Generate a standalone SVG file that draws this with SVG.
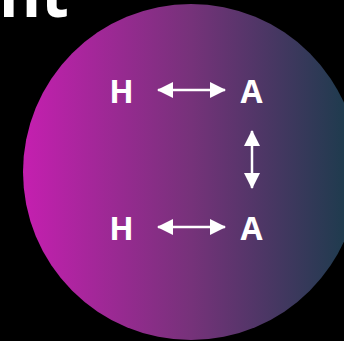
<svg xmlns="http://www.w3.org/2000/svg" width="344" height="341" viewBox="0 0 344 341">
  <defs>
    <linearGradient id="bg" gradientUnits="userSpaceOnUse" x1="23" y1="0" x2="359" y2="0">
      <stop offset="0" stop-color="#c51fb0"/>
      <stop offset="0.5" stop-color="#76327a"/>
      <stop offset="1" stop-color="#173c4a"/>
    </linearGradient>
    <marker id="ah" viewBox="0 0 16 16" refX="15" refY="8" markerWidth="16" markerHeight="16" markerUnits="userSpaceOnUse" orient="auto-start-reverse">
      <path d="M0,0 L16,8 L0,16 Z" fill="#ffffff"/>
    </marker>
  </defs>
  <style>
    .lbl { font-family: "Open Sans", "Noto Sans", "DejaVu Sans", sans-serif; font-weight: 700; fill: #ffffff; }
    .conn { stroke: #ffffff; stroke-width: 2.5; fill: none; marker-start: url(#ah); marker-end: url(#ah); }
  </style>
  <rect x="0" y="0" width="344" height="341" fill="#000000"/>
  <circle cx="191" cy="172" r="168" fill="url(#bg)"/>
  <text class="lbl" x="-1" y="17" font-size="64">nt</text>
  <g id="connectors">
    <line class="conn" x1="158" y1="90" x2="225" y2="90"/>
    <line class="conn" x1="158" y1="227" x2="225" y2="227"/>
    <line class="conn" x1="252" y1="131" x2="252" y2="188"/>
  </g>
  <g id="node-h1"><text class="lbl" x="121.5" y="103" font-size="32" text-anchor="middle">H</text></g>
  <g id="node-a1"><text class="lbl" x="251.5" y="103" font-size="32" text-anchor="middle">A</text></g>
  <g id="node-h2"><text class="lbl" x="121.5" y="240" font-size="32" text-anchor="middle">H</text></g>
  <g id="node-a2"><text class="lbl" x="251.5" y="240" font-size="32" text-anchor="middle">A</text></g>
</svg>
